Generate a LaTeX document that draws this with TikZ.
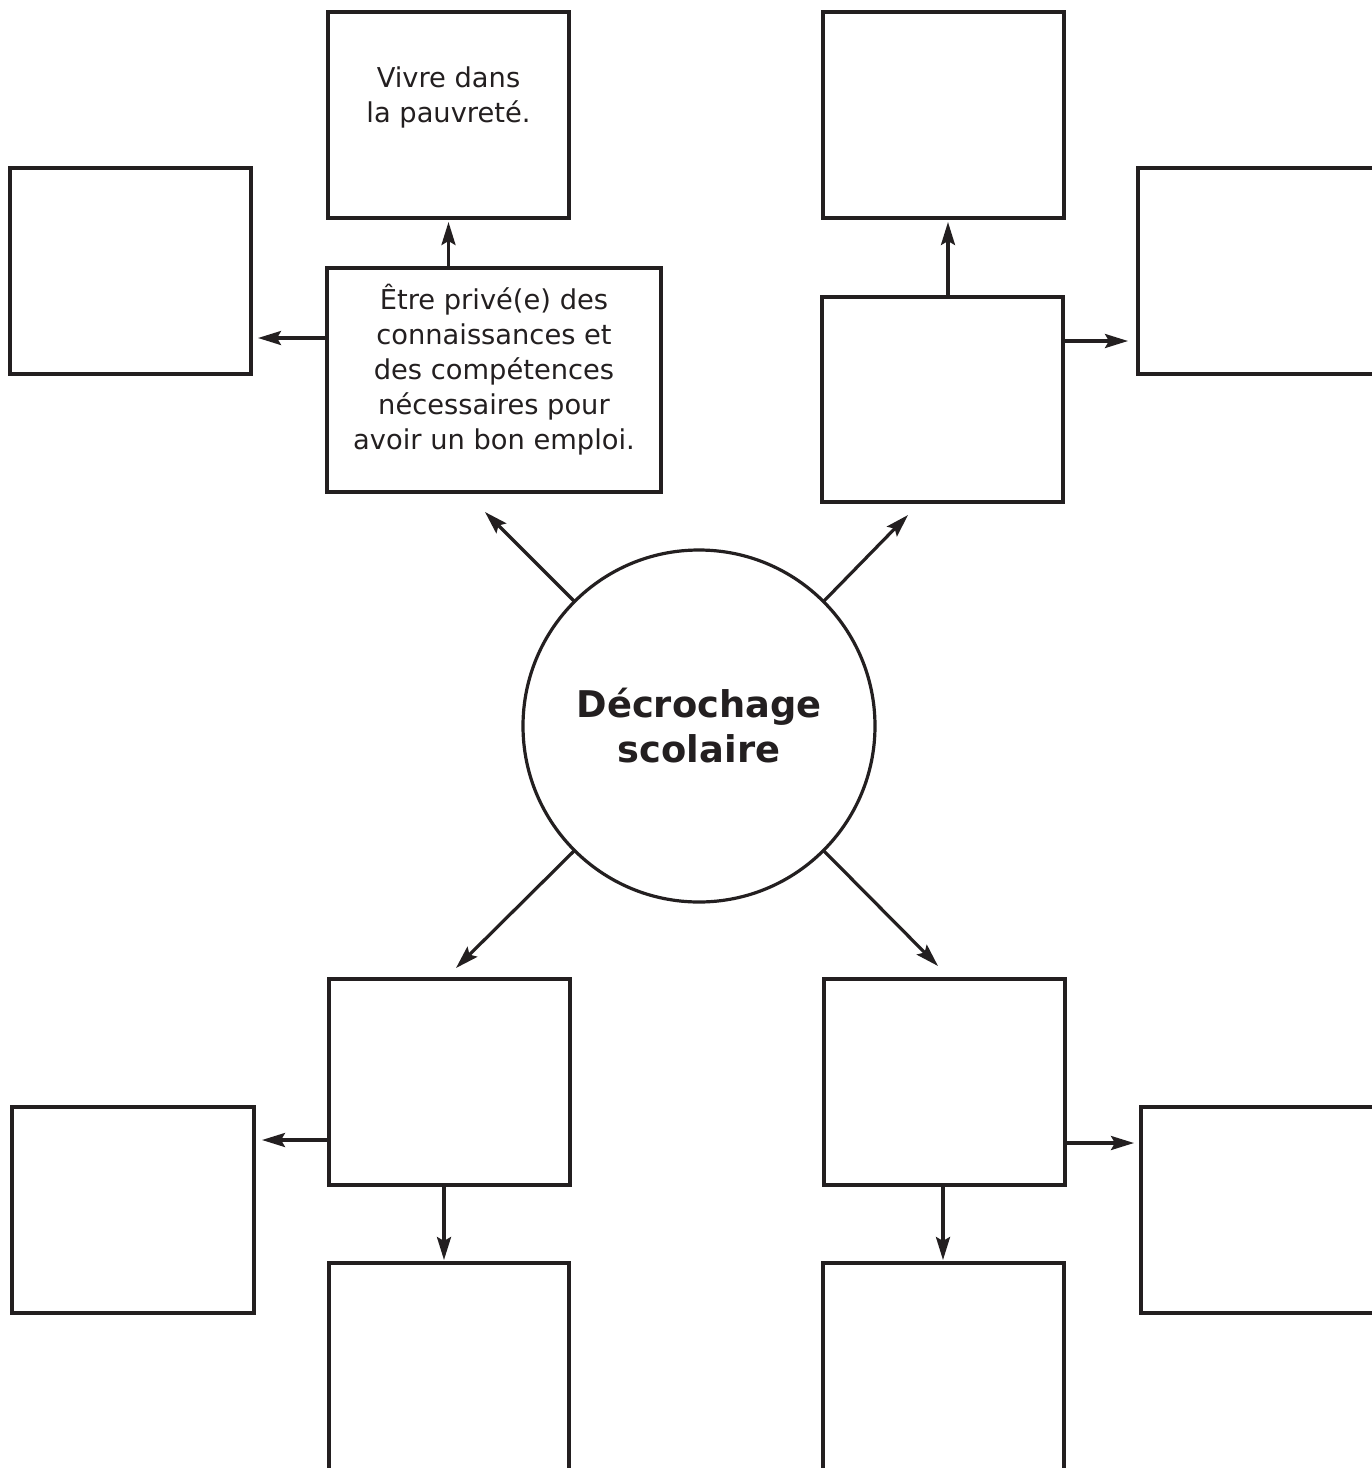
\documentclass[tikz,border=0pt]{standalone}
\usepackage{fontspec}
\setmainfont{DejaVu Sans}
\usetikzlibrary{arrows.meta}
\definecolor{ink}{RGB}{35,31,32}
\begin{document}
\begin{tikzpicture}[x=1pt,y=-1pt,
  box/.style={draw=ink, line width=3.2pt, anchor=north west, inner sep=0pt, outer sep=0pt},
  arr/.style={draw=ink, line width=3.2pt, -{Stealth[length=23pt,width=14pt,inset=4pt]}},
  txt/.style={text=ink, align=center, font=\fontsize{27.3}{35}\selectfont, inner sep=0pt},
]
\useasboundingbox (0,0) rectangle (1372,1468);
\fill[white] (0,0) rectangle (1372,1468);
% boxes
\node[box, minimum width=241pt, minimum height=206pt] (A) at (328,12) {};
\node[box, minimum width=334pt, minimum height=224pt] (B) at (327,268) {};
\node[box, minimum width=241pt, minimum height=206pt] (C) at (10,168) {};
\node[box, minimum width=241pt, minimum height=206pt] (D) at (823,12) {};
\node[box, minimum width=241pt, minimum height=205pt] (E) at (822,297) {};
\node[box, minimum width=260pt, minimum height=206pt] (F) at (1138,168) {};
\node[box, minimum width=241pt, minimum height=206pt] (G) at (329,979) {};
\node[box, minimum width=242pt, minimum height=206pt] (H) at (12,1107) {};
\node[box, minimum width=240pt, minimum height=240pt] (I) at (329,1263) {};
\node[box, minimum width=241pt, minimum height=206pt] (J) at (824,979) {};
\node[box, minimum width=260pt, minimum height=206pt] (K) at (1141,1107) {};
\node[box, minimum width=241pt, minimum height=240pt] (L) at (823,1263) {};
% texts
\node[txt] (tA) at (448.5,97) {Vivre dans\\la pauvreté.};
\node[txt] (tB) at (494,370) {Être privé(e) des\\connaissances et\\des compétences\\nécessaires pour\\avoir un bon emploi.};
% centre
\node[circle, draw=ink, line width=3.2pt, minimum size=352pt, inner sep=0pt, outer sep=0pt,
      align=center, text=ink, font=\bfseries\fontsize{36.8}{45}\selectfont] (ctr) at (699,726) {Décrochage\\scolaire};
% arrow tips
\coordinate (pAB) at (448.5,222);
\coordinate (pBC) at (258,338);
\coordinate (pB) at (485,512);
\coordinate (pE) at (908,515);
\coordinate (pED) at (948,222);
\coordinate (pEF) at (1128,341);
\coordinate (pG) at (456,968);
\coordinate (pJ) at (938,966);
\coordinate (pGH) at (262,1140);
\coordinate (pGI) at (444,1260);
\coordinate (pJK) at (1134,1143);
\coordinate (pJL) at (943,1260);
% arrows
\draw[arr] (B.north -| pAB) -- (pAB);
\draw[arr] (B.west |- pBC) -- (pBC);
\draw[arr] (ctr.135) -- (pB);
\draw[arr] (ctr.45) -- (pE);
\draw[arr] (E.north -| pED) -- (pED);
\draw[arr] (E.east |- pEF) -- (pEF);
\draw[arr] (ctr.225) -- (pG);
\draw[arr] (ctr.315) -- (pJ);
\draw[arr] (G.west |- pGH) -- (pGH);
\draw[arr] (G.south -| pGI) -- (pGI);
\draw[arr] (J.east |- pJK) -- (pJK);
\draw[arr] (J.south -| pJL) -- (pJL);
\end{tikzpicture}
\end{document}
